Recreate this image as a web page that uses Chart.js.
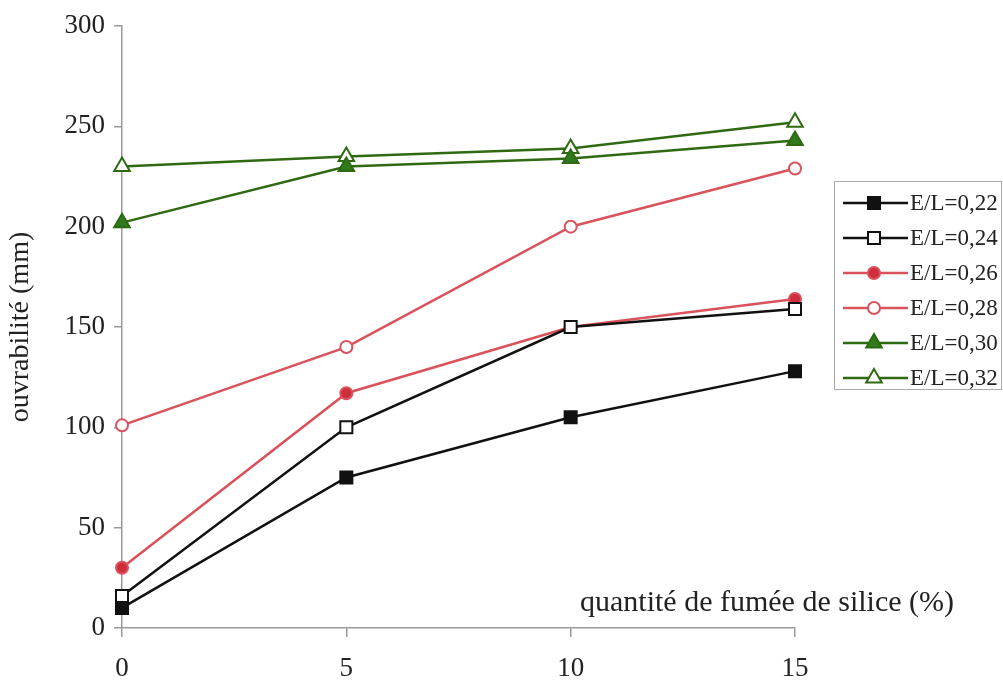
<!DOCTYPE html>
<html>
<head>
<meta charset="utf-8">
<script src="https://cdn.jsdelivr.net/npm/chart.js@4.4.0/dist/chart.umd.min.js"></script>
<style>
  html, body { margin: 0; padding: 0; background: #fff; }
</style>
</head>
<body>
<canvas id="ouvChart" width="1003" height="688"></canvas>
<script>
// quantité de fumée de silice (%)
const fumee = [0, 5, 10, 15];
// ouvrabilité (mm) for each E/L ratio
const el022 = [10, 75, 105, 128];
const el024 = [16, 100, 150, 159];
const el026 = [30, 117, 150, 164];
const el028 = [101, 140, 200, 229];
const el030 = [202, 230, 234, 243];
const el032 = [230, 235, 239, 252];
const seriesLabels = ['E/L=0,22', 'E/L=0,24', 'E/L=0,26', 'E/L=0,28', 'E/L=0,30', 'E/L=0,32'];

const SERIF = '"Liberation Serif", "DejaVu Serif", serif';
const BLACK = '#111111';
const RED_LINE = '#d9525c';
const RED_FILL = '#cf2f3d';
const GREEN_LINE = '#2f6a12';
const GREEN_FILL = '#2f7a1c';

const toPoints = vals => fumee.map((x, i) => ({ x: x, y: vals[i] }));

function makeSet(label, vals, line, fill, style, radius) {
  return {
    label: label,
    data: toPoints(vals),
    borderColor: line,
    borderWidth: 2.5,
    pointStyle: style,
    pointRadius: radius,
    pointBackgroundColor: fill,
    pointBorderColor: line,
    pointBorderWidth: 2,
    tension: 0,
    fill: false,
    clip: false
  };
}

// legend and in-plot axis caption drawn on top of the chart
const decorations = {
  id: 'decorations',
  afterDraw(chart) {
    const ctx = chart.ctx;
    ctx.save();
    ctx.font = '30px ' + SERIF;
    ctx.fillStyle = '#222';
    ctx.textBaseline = 'middle';
    ctx.textAlign = 'left';
    ctx.fillText('quantité de fumée de silice (%)', 580, 603);

    // legend box
    ctx.strokeStyle = '#aaa';
    ctx.lineWidth = 1;
    ctx.strokeRect(834.5, 181.5, 167, 208);
    chart.data.datasets.forEach((ds, i) => {
      const y = 203 + i * 35;
      ctx.strokeStyle = ds.borderColor;
      ctx.lineWidth = 2.5;
      ctx.beginPath();
      ctx.moveTo(843, y);
      ctx.lineTo(908, y);
      ctx.stroke();
      ctx.fillStyle = ds.pointBackgroundColor;
      ctx.lineWidth = 2;
      Chart.helpers.drawPoint(ctx, { pointStyle: ds.pointStyle, radius: ds.pointRadius, borderWidth: 2 }, 874, y);
      ctx.fillStyle = '#222';
      ctx.font = '23px ' + SERIF;
      ctx.fillText(ds.label, 910, y + 1);
    });
    ctx.restore();
  }
};

new Chart(document.getElementById('ouvChart'), {
  type: 'line',
  data: {
    datasets: [
      makeSet(seriesLabels[0], el022, BLACK, BLACK, 'rect', 8.5),
      makeSet(seriesLabels[1], el024, BLACK, '#ffffff', 'rect', 8.5),
      makeSet(seriesLabels[2], el026, RED_LINE, RED_FILL, 'circle', 6),
      makeSet(seriesLabels[3], el028, RED_LINE, '#ffffff', 'circle', 6),
      makeSet(seriesLabels[4], el030, GREEN_LINE, GREEN_FILL, 'triangle', 9),
      makeSet(seriesLabels[5], el032, GREEN_LINE, '#ffffff', 'triangle', 9)
    ]
  },
  options: {
    responsive: false,
    animation: false,
    layout: { padding: { top: 26, right: 208, left: 0, bottom: 0 } },
    plugins: {
      legend: { display: false },
      tooltip: { enabled: false }
    },
    scales: {
      x: {
        type: 'linear',
        min: 0,
        max: 15,
        border: { color: '#999', width: 1.5 },
        grid: { drawOnChartArea: false, drawTicks: true, tickLength: 9, color: '#999', lineWidth: 1.5 },
        ticks: { stepSize: 5, color: '#222', font: { family: SERIF, size: 27 }, padding: 16 },
        afterFit(scale) { scale.height = 60; }
      },
      y: {
        min: 0,
        max: 300,
        border: { color: '#999', width: 1.5 },
        grid: { drawOnChartArea: false, drawTicks: true, tickLength: 8, color: '#999', lineWidth: 1.5 },
        ticks: { stepSize: 50, color: '#222', font: { family: SERIF, size: 27 }, padding: 9 },
        title: {
          display: true,
          text: 'ouvrabilité (mm)',
          color: '#222',
          font: { family: SERIF, size: 28 },
          padding: { top: 4, bottom: 0 }
        },
        afterFit(scale) { scale.width = 122; }
      }
    }
  },
  plugins: [decorations]
});
</script>
</body>
</html>
